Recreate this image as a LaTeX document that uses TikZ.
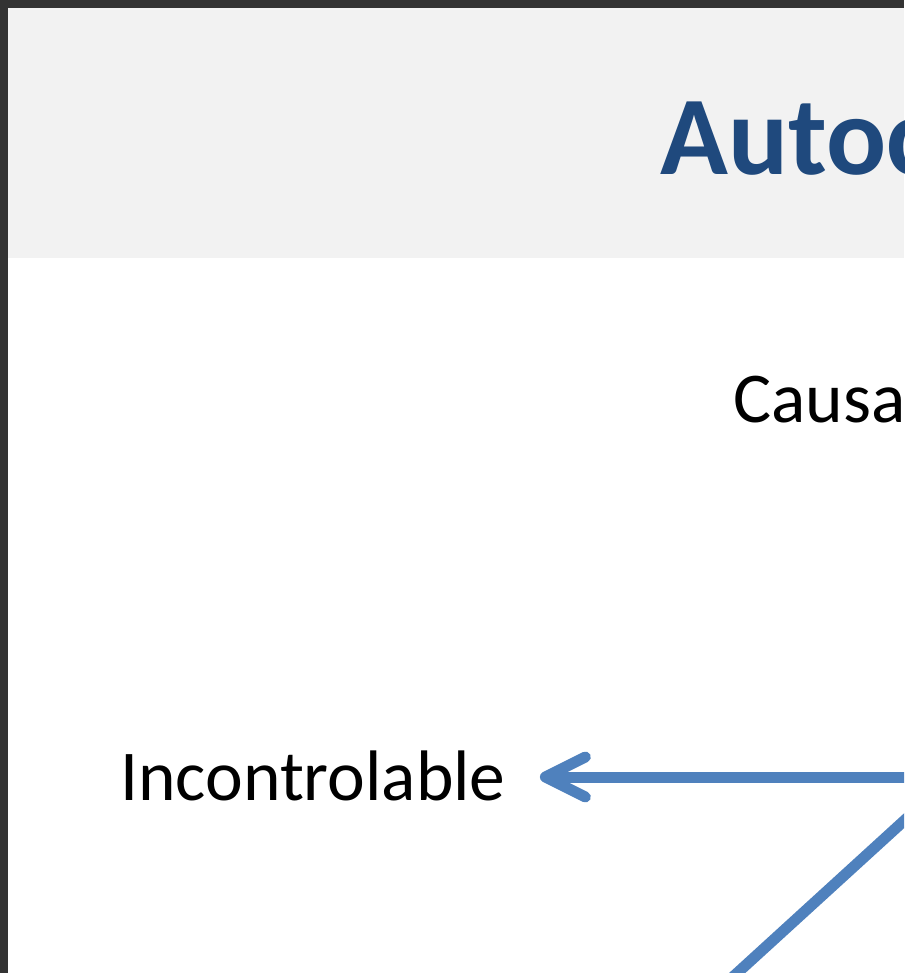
\documentclass[tikz,border=0pt]{standalone}
\usepackage{fontspec}
\setmainfont{Carlito}
\usetikzlibrary{arrows.meta}
\definecolor{marco}{HTML}{333333}
\definecolor{franja}{HTML}{F2F2F2}
\definecolor{azultitulo}{HTML}{1F497D}
\definecolor{azulflecha}{HTML}{4F81BD}

\begin{document}
\begin{tikzpicture}[x=1pt,y=-1pt,
		flecha/.style={line width=11pt, azulflecha, line cap=round},
		etiqueta/.style={anchor=base west, inner sep=0pt, font=\fontsize{71.5}{86}\selectfont}
	]
	\useasboundingbox (0,0) rectangle (904,973);
	\clip (0,0) rectangle (904,973);
	
	% marco y franja del titulo
	\fill[marco] (0,0) rectangle (904,973);
	\fill[white] (8,8) rectangle (904,973);
	\fill[franja] (8,8) rectangle (904,258);
	
	\node[anchor=base west, inner sep=0pt, text=azultitulo, font=\fontsize{112}{130}\selectfont\bfseries] (titulo) at (660,175) {Autoc};
	\node[etiqueta] (causa) at (733,422) {Causa};
	\node[etiqueta] (incontrolable) at (120,800) {Incontrolable};
	
	\coordinate (centro) at (952,777);
	\coordinate (abajo) at (598,1100);
	
	\draw[flecha, -{Straight Barb[length=40pt, width=40pt, round]}, shorten >=34pt] (centro) -- (incontrolable.east |- centro);
	\draw[flecha] (centro) -- (abajo);
\end{tikzpicture}
\end{document}
